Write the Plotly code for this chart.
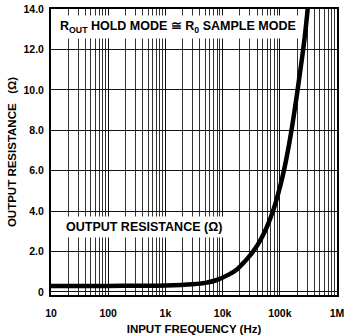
import plotly.graph_objects as go

# Data
freq_hz = [10, 100, 1000, 3000, 5000, 7700, 13000, 18000, 22500, 28000, 34000,
           42000, 50000, 60000, 70000, 80000, 90000, 110000, 130000, 160000,
           200000, 240000, 270000, 300000, 330000]
r_out = [0.3, 0.3, 0.32, 0.38, 0.45, 0.58, 0.87, 1.13, 1.4, 1.7, 2.0,
         2.38, 2.77, 3.25, 3.72, 4.2, 4.68, 5.63, 6.58, 8.0,
         9.8, 11.4, 12.5, 13.7, 15.0]

x_tickvals = [10, 100, 1000, 10000, 100000, 1000000]
x_ticktext = ["10", "100", "1k", "10k", "100k", "1M"]
y_tickvals = [0, 2, 4, 6, 8, 10, 12, 14]
y_ticktext = ["0", "2.0", "4.0", "6.0", "8.0", "10.0", "12.0", "14.0"]

minor_vals = [m * 10 ** d for d in range(1, 6) for m in range(2, 10)]

FONT = "Liberation Sans, Arial, Helvetica, sans-serif"
GRID = "#111111"

fig = go.Figure()
fig.add_trace(go.Scatter(
    x=freq_hz, y=r_out, mode="lines",
    line=dict(color="black", width=4.5, shape="spline", smoothing=1.0),
    hoverinfo="skip", showlegend=False,
))

fig.add_annotation(
    x=3.22, y=13.1, xref="x", yref="y",
    text="R<sub>OUT</sub> HOLD MODE \u2245 R<sub>0</sub> SAMPLE MODE",
    showarrow=False, bgcolor="white",
    font=dict(family=FONT, size=12.5, color="black", weight="bold"),
    borderpad=3,
)
fig.add_annotation(
    x=2.62, y=3.2, xref="x", yref="y",
    text="OUTPUT RESISTANCE (\u03a9)",
    showarrow=False, bgcolor="white",
    font=dict(family=FONT, size=12.5, color="black", weight="bold"),
    borderpad=3,
)

fig.update_layout(
    width=348, height=335,
    margin=dict(l=51, r=11, t=9, b=40),
    paper_bgcolor="white", plot_bgcolor="white",
    font=dict(family=FONT, size=10, color="black", weight="bold"),
    xaxis=dict(
        type="log", range=[1, 6], automargin=False,
        tickvals=x_tickvals, ticktext=x_ticktext,
        showgrid=True, gridcolor=GRID, gridwidth=1.3,
        minor=dict(tickvals=minor_vals, showgrid=True, gridcolor="#333333", gridwidth=1),
        showline=True, linecolor="black", linewidth=2, mirror=True,
        ticks="", zeroline=False, ticklabelstandoff=7,
        tickfont=dict(family=FONT, size=10.5, weight="bold"),
        title=dict(text="INPUT FREQUENCY (Hz)", standoff=9,
                   font=dict(family=FONT, size=11.5, weight="bold")),
    ),
    yaxis=dict(
        range=[-0.15, 14], automargin=False,
        tickvals=y_tickvals, ticktext=y_ticktext,
        showgrid=True, gridcolor=GRID, gridwidth=1.3,
        showline=True, linecolor="black", linewidth=2, mirror=True,
        ticks="", zeroline=False, ticklabelstandoff=3,
        tickfont=dict(family=FONT, size=10.5, weight="bold"),
        title=dict(text="OUTPUT RESISTANCE   (\u03a9)", standoff=4,
                   font=dict(family=FONT, size=11.5, weight="bold")),
    ),
)

fig.write_html("out.html")
